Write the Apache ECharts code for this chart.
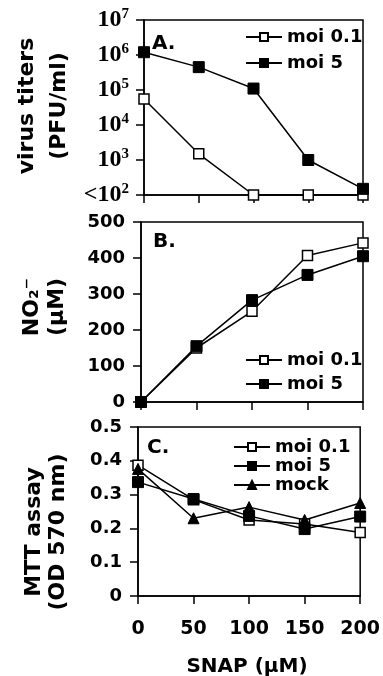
<!DOCTYPE html>
<html>
<head>
<meta charset="utf-8">
<script src="https://cdn.jsdelivr.net/npm/echarts@6/dist/echarts.min.js"></script>
<style>
  html, body { margin: 0; padding: 0; background: #fff; }
  #chart { width: 383px; height: 676px; }
</style>
</head>
<body>
<div id="chart"></div>
<script>
// SNAP concentration (uM)
const snap = [0, 50, 100, 150, 200]

// A. virus titers (PFU/ml), 100 = below detection
const titerMoi01 = [55000, 1500, 100, 100, 100]
const titerMoi5 = [1200000, 450000, 110000, 1000, 150]

// B. NO2- (uM)
const no2Moi01 = [0, 150, 252, 407, 442]
const no2Moi5 = [0, 155, 283, 353, 405]

// C. MTT assay (OD 570 nm)
const mttMoi01 = [0.387, 0.285, 0.225, 0.213, 0.188]
const mttMoi5 = [0.337, 0.287, 0.237, 0.198, 0.235]
const mttMock = [0.376, 0.23, 0.263, 0.225, 0.275]

const seriesNames = ["moi 0.1", "moi 5", "mock"]

const FONT = '"DejaVu Sans", sans-serif'
const SERIF = '"Liberation Serif", serif'
const pts = (vals) => vals.map((v, i) => [snap[i], v])

const chart = echarts.init(document.getElementById("chart"))

const grids = [
  { left: 144, right: 20, top: 20, height: 175 },
  { left: 141, right: 20, top: 222, height: 180 },
  { left: 138, right: 21, top: 427, height: 169 },
].map((g) => ({ ...g, show: true, borderColor: "#000", borderWidth: 1.5, backgroundColor: "transparent" }))

const axisLine = { lineStyle: { color: "#000", width: 1.5 } }
const axisTick = { inside: false, length: 8, lineStyle: { color: "#000", width: 1.5 } }

const xAxes = [0, 1, 2].map((i) => ({
  gridIndex: i,
  type: "value",
  min: 0,
  max: 200,
  interval: 50,
  axisLine,
  axisTick,
  splitLine: { show: false },
  axisLabel: {
    show: i === 2,
    margin: 24,
    color: "#000",
    fontFamily: FONT,
    fontWeight: "bold",
    fontSize: 19,
  },
}))

const numLabel = { color: "#000", fontFamily: FONT, fontWeight: "bold", fontSize: 18, margin: 16 }

const yAxes = [
  {
    gridIndex: 0,
    type: "log",
    logBase: 10,
    min: 100,
    max: 10000000,
    splitNumber: 5,
    axisLine,
    axisTick,
    splitLine: { show: false },
    axisLabel: {
      margin: 15,
      formatter: (v) => {
        const e = Math.round(Math.log10(v))
        return (e === 2 ? "{n|<10}" : "{n|10}") + "{s|" + e + "}"
      },
      rich: {
        n: { color: "#000", fontFamily: SERIF, fontWeight: "bold", fontSize: 24 },
        s: { color: "#000", fontFamily: SERIF, fontWeight: "bold", fontSize: 15, padding: [0, 0, 12, 0] },
      },
    },
  },
  {
    gridIndex: 1,
    type: "value",
    min: 0,
    max: 500,
    interval: 100,
    axisLine,
    axisTick,
    splitLine: { show: false },
    axisLabel: numLabel,
  },
  {
    gridIndex: 2,
    type: "value",
    min: 0,
    max: 0.5,
    interval: 0.1,
    axisLine,
    axisTick,
    splitLine: { show: false },
    axisLabel: { ...numLabel, formatter: (v) => (v === 0 ? "0" : v.toFixed(1)) },
  },
]

const openSq = { symbol: "rect", symbolSize: 10, itemStyle: { color: "#fff", borderColor: "#000", borderWidth: 1.5 } }
const filledSq = { symbol: "rect", symbolSize: 11, itemStyle: { color: "#000", borderColor: "#000", borderWidth: 1 } }
const tri = { symbol: "triangle", symbolSize: 11, itemStyle: { color: "#000", borderColor: "#000", borderWidth: 1 } }

function line(name, idx, vals, marker) {
  return {
    name,
    type: "line",
    xAxisIndex: idx,
    yAxisIndex: idx,
    data: pts(vals),
    clip: false,
    showAllSymbol: true,
    lineStyle: { color: "#000", width: 1.5 },
    emphasis: { disabled: true },
    ...marker,
  }
}

const series = [
  line(seriesNames[0], 0, titerMoi01, openSq),
  line(seriesNames[1], 0, titerMoi5, filledSq),
  line(seriesNames[0], 1, no2Moi01, openSq),
  line(seriesNames[1], 1, no2Moi5, filledSq),
  line(seriesNames[0], 2, mttMoi01, openSq),
  line(seriesNames[1], 2, mttMoi5, filledSq),
  line(seriesNames[2], 2, mttMock, tri),
]

const legendText = { color: "#000", fontFamily: FONT, fontWeight: "bold", fontSize: 18 }
function legend(left, top, gap, names, lh) {
  return {
    orient: "vertical",
    left,
    top,
    itemGap: gap,
    itemWidth: 36,
    itemHeight: 10,
    padding: 0,
    selectedMode: false,
    data: names,
    textStyle: { ...legendText, lineHeight: lh },
  }
}

function vtitle(text, x, y) {
  return {
    type: "text",
    x,
    y,
    rotation: Math.PI / 2,
    style: { text, fill: "#000", font: "bold 22px " + FONT, align: "center", verticalAlign: "middle" },
  }
}
function ptext(text, x, y, size, align) {
  return {
    type: "text",
    x,
    y,
    style: { text, fill: "#000", font: "bold " + size + "px " + FONT, align: align || "left", verticalAlign: "middle" },
  }
}

chart.setOption({
  animation: false,
  backgroundColor: "#fff",
  grid: grids,
  xAxis: xAxes,
  yAxis: yAxes,
  legend: [
    legend(245, 27, 6, seriesNames.slice(0, 2), 20),
    legend(245, 350, 4, seriesNames.slice(0, 2), 20),
    legend(233, 438, 1, seriesNames, 18),
  ],
  graphic: [
    vtitle("virus titers", 27, 106),
    vtitle("(PFU/ml)", 59, 106),
    vtitle("NO₂⁻", 32, 307),
    vtitle("(μM)", 57, 307),
    vtitle("MTT assay", 34, 532),
    vtitle("(OD 570 nm)", 58, 532),
    ptext("A.", 152, 44, 20),
    ptext("B.", 153, 242, 20),
    ptext("C.", 147, 448, 20),
    ptext("SNAP (μM)", 247, 667, 20, "center"),
  ],
  series,
})
</script>
</body>
</html>
